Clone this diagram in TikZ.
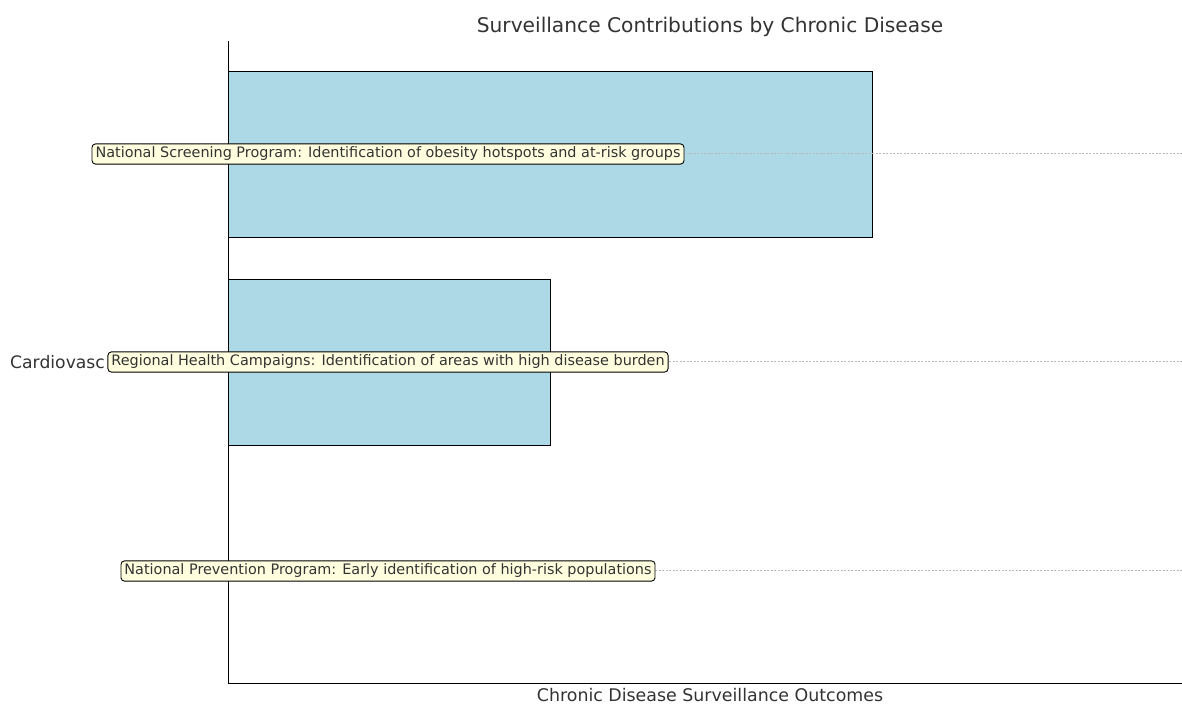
\documentclass[tikz,border=0pt]{standalone}
\usepackage{fontspec}
\setmainfont{DejaVu Sans}
\usetikzlibrary{positioning}
\definecolor{BARBLUE}{HTML}{ADD8E6}
\definecolor{NOTEYELLOW}{HTML}{FFFFE0}
\definecolor{TXTGRAY}{HTML}{333333}

\begin{document}
\begin{tikzpicture}[x=1pt, y=-1pt,
    bar/.style={draw=black, fill=BARBLUE, line width=0.9pt},
    note/.style={rectangle, draw=black, fill=NOTEYELLOW, rounded corners=3.5pt,
                 line width=0.9pt, inner xsep=3.5pt, inner ysep=3pt,
                 text height=10.8pt, text depth=3.4pt,
                 font=\fontsize{14.4}{16}\selectfont, text=TXTGRAY},
    gridline/.style={draw=gray!55, dashed, dash pattern=on 2pt off 1.5pt, line width=0.4pt},
    spine/.style={draw=black, line width=0.9pt}
  ]
  \useasboundingbox (0,0) rectangle (1182,704);
  % bars
  \draw[bar] (228,71) rectangle (872,237);
  \draw[bar] (228,279) rectangle (550,445);
  % axes
  \coordinate (top) at (228,41);
  \coordinate (origin) at (228,683);
  \coordinate (xend) at (1182,683);
  \draw[spine] (top) -- (origin) -- (xend);
  % grid lines for the three rows
  \foreach \y/\n in {153/a,361/b,570/c} {
    \coordinate (g\n) at (228,\y);
    \coordinate (h\n) at (1182,\y);
    \draw[gridline] (g\n) -- (h\n);
  }
  % tick label (partly hidden)
  \node[anchor=west, inner sep=0pt, font=\fontsize{17.2}{19}\selectfont, text=TXTGRAY] (cardio) at (10,362) {Cardiovasc};
  % notes
  \node[note] (screening) at (388,154) {National Screening Program: Identification of obesity hotspots and at-risk groups};
  \node[note] (regional) at (388,362) {Regional Health Campaigns: Identification of areas with high disease burden};
  \node[note] (prevention) at (388,571) {National Prevention Program: Early identification of high-risk populations};
  % titles
  \node[inner sep=0pt, font=\fontsize{20.2}{23}\selectfont, text=TXTGRAY] (title) at (710,27) {Surveillance Contributions by Chronic Disease};
  \node[inner sep=0pt, font=\fontsize{17.4}{20}\selectfont, text=TXTGRAY] (xlabel) at (710,695) {Chronic Disease Surveillance Outcomes};
\end{tikzpicture}
\end{document}
